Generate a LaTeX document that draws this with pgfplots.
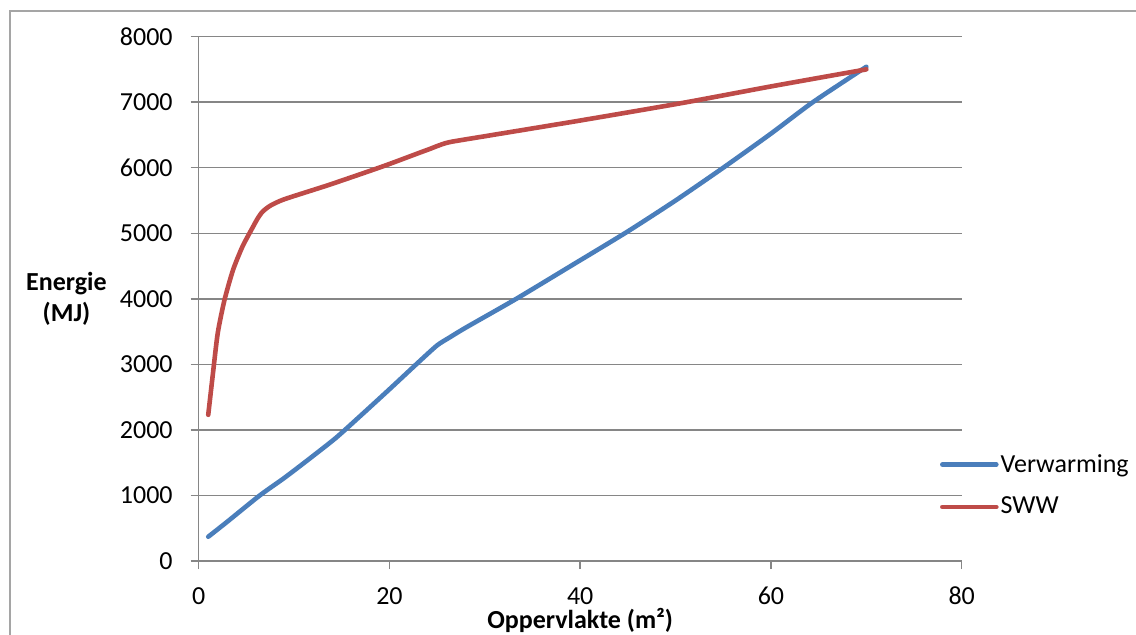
\documentclass[border=0pt]{standalone}
\usepackage{pgfplots}
\pgfplotsset{compat=1.18}
\usepackage{fontspec}
\setmainfont{Carlito}
\definecolor{cblue}{RGB}{74,126,187}
\definecolor{cred}{RGB}{190,75,72}
\definecolor{gridgray}{RGB}{134,134,134}
\definecolor{framegray}{RGB}{165,165,165}
\begin{document}
\begin{tikzpicture}
\clip (0,0) rectangle (568pt,317pt);
\draw[framegray, line width=0.6pt] (5pt,-20pt) -- (5pt,311.5pt) -- (620pt,311.5pt);
\begin{axis}[
  at={(99.35pt,36.5pt)}, anchor=south west,
  scale only axis, width=381.5pt, height=262.2pt,
  xmin=0, xmax=80, ymin=0, ymax=8000,
  xtick={0,20,40,60,80}, ytick={0,1000,...,8000},
  axis lines=left, axis line style={gridgray, line width=0.7pt, -},
  ymajorgrids, grid style={gridgray, line width=0.7pt},
  tick align=outside, major tick length=4pt,
  tick style={gridgray, line width=0.7pt},
  font=\fontsize{13}{15}\selectfont,
  /pgf/number format/assume math mode=true,
  /pgf/number format/1000 sep={},
  yticklabel style={anchor=east, inner sep=0pt, xshift=-8.85pt},
  xticklabel style={anchor=base, inner sep=0pt, yshift=-17.5pt},
  every axis x label/.style={at={(rel axis cs:0.5,-0.1295)}, anchor=base, inner sep=0pt, font=\fontsize{13}{15}\selectfont\bfseries},
  every axis y label/.style={at={(rel axis cs:-0.1733,0.5)}, anchor=center, align=center, font=\fontsize{13}{15.5}\selectfont\bfseries},
  xlabel={Oppervlakte (m²)},
  ylabel={Energie\\(MJ)},
  legend style={draw=none, fill=none, at={(rel axis cs:0.9716,0.144)}, anchor=west, inner sep=0pt, outer sep=0pt, row sep=9pt, font=\fontsize{13}{15}\selectfont, nodes={inner sep=1pt}},
  legend cell align=left,
  legend image code/.code={\draw[#1, line cap=round] (0pt,0pt) -- (27pt,0pt);},
]
\addplot[cblue, line width=2.3pt, line join=round, line cap=round, smooth, tension=0.4] coordinates {
(1,370) (3,600) (6.4,1000) (9,1270) (11.7,1570) (14.4,1880) (17,2220) (20,2620)
(23.1,3040) (25,3290) (26.3,3410) (28,3560) (33.3,4000) (39,4500) (44.9,5020)
(50,5500) (55,6000) (60,6520) (64.4,7000) (70,7540)
};
\addlegendentry{Verwarming}
\addplot[cred, line width=2.3pt, line join=round, line cap=round, smooth, tension=0.4] coordinates {
(1,2230) (1.5,2870) (2,3480) (2.7,3980) (3.6,4440) (4.6,4800) (5.7,5100) (6.2,5230)
(6.7,5330) (7.5,5420) (9,5520) (13.7,5740) (19.3,6020) (23,6220) (24.3,6290) (25,6330)
(26.3,6390) (30,6480) (40,6720) (50.8,6990) (60,7240) (70,7500)
};
\addlegendentry{SWW}
\end{axis}
\end{tikzpicture}
\end{document}
